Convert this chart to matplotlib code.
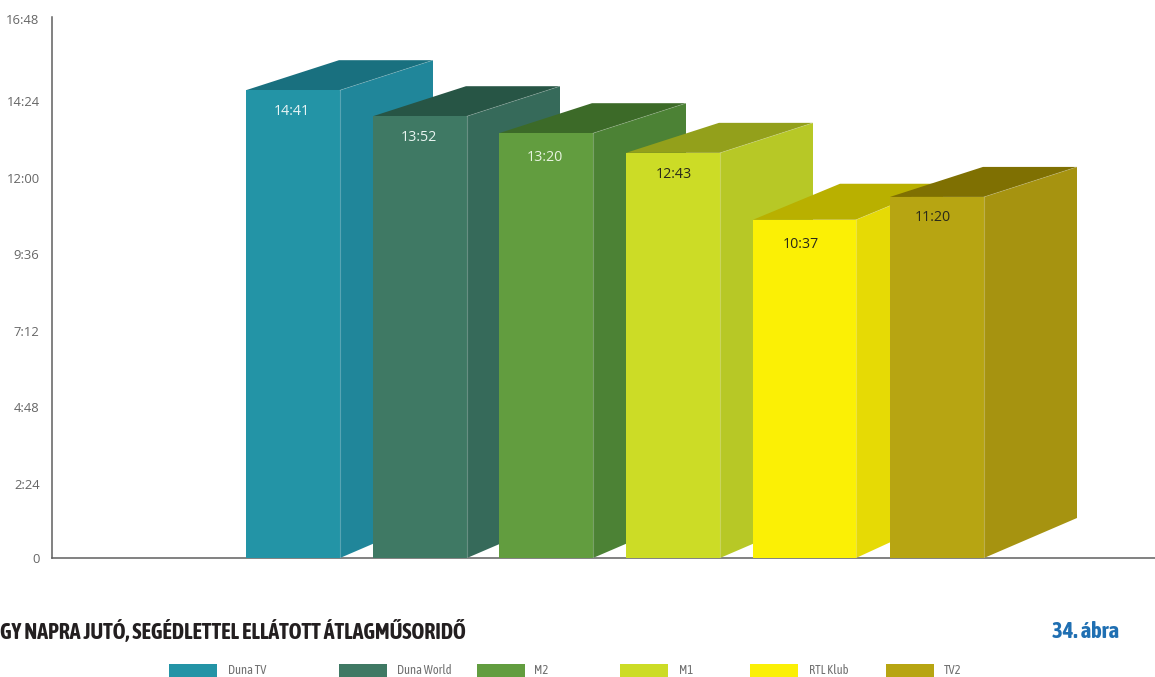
import matplotlib
matplotlib.use('Agg')
import matplotlib.pyplot as plt
from matplotlib.patches import Polygon, Rectangle
from matplotlib.transforms import ScaledTranslation

channels = ['Duna TV', 'Duna World', 'M2', 'M1', 'RTL Klub', 'TV2']
minutes = [881, 832, 800, 763, 637, 680]
value_labels = ['14:41', '13:52', '13:20', '12:43', '10:37', '11:20']
tick_values = [0, 144, 288, 432, 576, 720, 864, 1008]
tick_labels = ['0', '2:24', '4:48', '7:12', '9:36', '12:00', '14:24', '16:48']

# layout, in pixels of the 1155x677 picture
lefts = [246, 373, 499, 626, 753, 890]
widths = [94, 94, 94, 94, 103, 94]
depths = [93, 93, 93, 93, 87, 93]
label_x = [292, 419, 545, 674, 801, 933]
label_dy = [20, 20, 23, 20, 23, 19]
swatch_x = [169, 339, 477, 620, 750, 886]
legend_x = [228, 397, 534, 679, 809, 944]

front = ['#2394a6', '#3f7964', '#629d3f', '#ccdc26', '#fbf005', '#b7a512']
side = ['#20869a', '#366a5a', '#4c8235', '#b7c826', '#e6da05', '#a69310']
top = ['#19707f', '#275545', '#3c6a28', '#93a01b', '#b9b000', '#7f7002']
text_col = ['#e8f4f5', '#e8f4f0', '#e8f4e0', '#2a2a1a', '#2a2a1a', '#2a2a1a']

W, H = 1155, 677
PX = 0.531  # pixels per minute
Y0 = 558
Y_TOP = 17

narrow = ['Asap Condensed', 'Liberation Sans']

fig = plt.figure(figsize=(W / 100, H / 100), dpi=100)
ax = fig.add_axes([52 / W, 1 - Y0 / H, (W - 52) / W, (Y0 - Y_TOP) / H])
ax.set_xlim(52, W)
ax.set_ylim(0, (Y0 - Y_TOP) / PX)

for s in ['top', 'right']:
    ax.spines[s].set_visible(False)
for s in ['left', 'bottom']:
    ax.spines[s].set_color('#5f5f5f')
    ax.spines[s].set_linewidth(1.1)

ax.set_xticks([])
ax.set_yticks(tick_values)
ax.set_yticklabels(tick_labels, family='Open Sans', fontsize=9.4, color='#666666')
ax.tick_params(axis='y', length=0, pad=9)
for lab, v in zip(ax.get_yticklabels(), tick_values):
    dy = -1.5
    if v == 1008:
        dy = 3
    if v == 0:
        dy = 0.3
    lab.set_transform(lab.get_transform() + ScaledTranslation(0, dy / 72, fig.dpi_scale_trans))

for i in range(len(channels)):
    x0 = lefts[i]
    x1 = x0 + widths[i]
    d = depths[i]
    h = minutes[i]
    rise_top = 30 / PX if i != 4 else 36 / PX
    rise_bot = 40 / PX
    z = 3 + i
    ax.add_patch(Polygon([(x1, 0), (x1 + d, rise_bot), (x1 + d, h + rise_top), (x1, h)],
                         closed=True, facecolor=side[i], edgecolor='none', zorder=z))
    ax.add_patch(Polygon([(x0, h), (x0 + d, h + rise_top), (x1 + d, h + rise_top), (x1, h)],
                         closed=True, facecolor=top[i], edgecolor='none', zorder=z))
    ax.bar(x0, h, width=widths[i], align='edge', color=front[i], zorder=z)
    ax.plot([x1, x1], [0, h], color='white', alpha=0.25, lw=0.8, zorder=z)
    ax.plot([x1, x1 + d], [h, h + rise_top], color='white', alpha=0.2, lw=0.6, zorder=z)
    ax.text(label_x[i], h - (label_dy[i] + 1.5) / PX, value_labels[i], family='Open Sans', fontsize=10.3,
            color=text_col[i], ha='center', va='center', zorder=20)

fig.text(0, 1 - 632 / H, 'GY NAPRA JUTÓ, SEGÉDLETTEL ELLÁTOTT ÁTLAGMŰSORIDŐ', family=narrow,
         fontweight='bold', fontsize=15.75, color='#231f20', ha='left', va='center')
fig.text(1052 / W, 1 - 632 / H, '34. ábra', family=narrow, fontweight='bold', fontsize=16.3,
         color='#1f6fb2', ha='left', va='center')

for i in range(len(channels)):
    fig.add_artist(Rectangle((swatch_x[i] / W, 0), 48 / W, 13 / H, transform=fig.transFigure,
                             facecolor=front[i], edgecolor='none'))
    fig.text(legend_x[i] / W, 1 - 671 / H, channels[i], family=narrow, fontsize=9,
             color='#707070', ha='left', va='center')

fig.savefig('out.png', dpi=100)
